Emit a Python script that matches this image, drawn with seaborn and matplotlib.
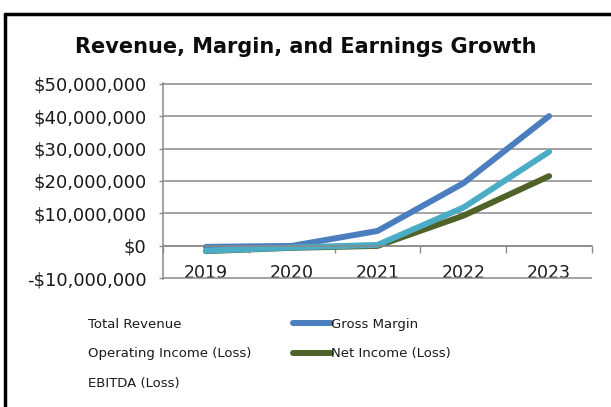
import matplotlib
matplotlib.use("Agg")
import matplotlib.pyplot as plt
from matplotlib.lines import Line2D
from matplotlib.ticker import FuncFormatter, FixedLocator
import seaborn as sns
import pandas as pd

years = ["2019", "2020", "2021", "2022", "2023"]
gross_margin = [-300_000, 0, 4_600_000, 19_300_000, 40_000_000]
net_income = [-1_600_000, -600_000, 0, 9_300_000, 21_500_000]
ebitda = [-1_500_000, -500_000, 300_000, 11_800_000, 29_000_000]
legend_order = ["Total Revenue", "Operating Income (Loss)", "EBITDA (Loss)",
                "Gross Margin", "Net Income (Loss)"]

colors = {"Gross Margin": "#4a7ebf", "Net Income (Loss)": "#4f6228",
          "EBITDA (Loss)": "#4bacc6"}

rows = []
for name, vals in [("Net Income (Loss)", net_income), ("Gross Margin", gross_margin),
                   ("EBITDA (Loss)", ebitda)]:
    for i, v in enumerate(vals):
        rows.append({"pos": i, "value": v, "series": name})
df = pd.DataFrame(rows)

sns.set_theme(style="white")
plt.rcParams["font.family"] = ["DejaVu Sans"]

fig = plt.figure(figsize=(6.11, 4.07), dpi=100)
ax = fig.add_axes([163 / 611, 1 - 279 / 407, (592 - 163) / 611, (279 - 83) / 407])

sns.lineplot(data=df, x="pos", y="value", hue="series", palette=colors,
             hue_order=["Net Income (Loss)", "Gross Margin", "EBITDA (Loss)"],
             linewidth=4.3, ax=ax, legend=False, solid_capstyle="round")

ax.set_xlim(-0.5, 4.5)
ax.set_ylim(-10_200_000, 50_200_000)
ax.set_yticks(range(-10_000_000, 50_000_001, 10_000_000))
ax.yaxis.set_major_formatter(FuncFormatter(
    lambda v, _: f"-${abs(v):,.0f}" if v < 0 else f"${v:,.0f}"))
ax.grid(axis="y", color="#8a8a8a", linewidth=1.1)
ax.set_axisbelow(True)
ax.set_xlabel("")
ax.set_ylabel("")

ax.set_xticks(range(len(years)))
ax.set_xticklabels(years)
ax.xaxis.set_minor_locator(FixedLocator([i - 0.5 for i in range(len(years) + 1)]))
ax.tick_params(axis="x", which="major", length=0, pad=13, labelsize=12.5, colors="#1a1a1a")
ax.tick_params(axis="x", which="minor", length=5, width=1, color="#8a8a8a", direction="out",
               bottom=True)
ax.tick_params(axis="y", which="major", length=3, width=1, color="#8a8a8a", left=True,
               labelsize=13, labelcolor="#1a1a1a", pad=9)

for s in ["top", "right"]:
    ax.spines[s].set_visible(False)
ax.spines["bottom"].set_position(("data", 0))
ax.spines["bottom"].set_color("#8a8a8a")
ax.spines["left"].set_color("#8a8a8a")
ax.spines["bottom"].set_linewidth(1.1)
ax.spines["left"].set_linewidth(1.1)

fig.text(0.5, 1 - 47 / 407, "Revenue, Margin, and Earnings Growth", ha="center",
         va="center", fontsize=15, fontweight="bold", color="#0d0d0d")

handles = []
for name in legend_order:
    c = colors.get(name)
    if name in ("Gross Margin", "Net Income (Loss)"):
        handles.append(Line2D([], [], color=c, linewidth=4.3))
    else:
        handles.append(Line2D([], [], color="none", linewidth=4.3))
fig.legend(handles, legend_order, ncol=2, loc="upper left",
           bbox_to_anchor=(39 / 611, 1 - 306 / 407), frameon=False, fontsize=9.5,
           handlelength=2.85, handletextpad=0.0, columnspacing=3.15, labelspacing=1.25,
           labelcolor="#1a1a1a")

# outer frame edges
fig.add_artist(Line2D([5 / 611, 1], [1 - 14 / 407, 1 - 14 / 407], color="black",
                      linewidth=2.5, transform=fig.transFigure))
fig.add_artist(Line2D([5 / 611, 5 / 611], [0, 1 - 14 / 407], color="black",
                      linewidth=2.5, transform=fig.transFigure))

fig.savefig("out.png", dpi=100)
